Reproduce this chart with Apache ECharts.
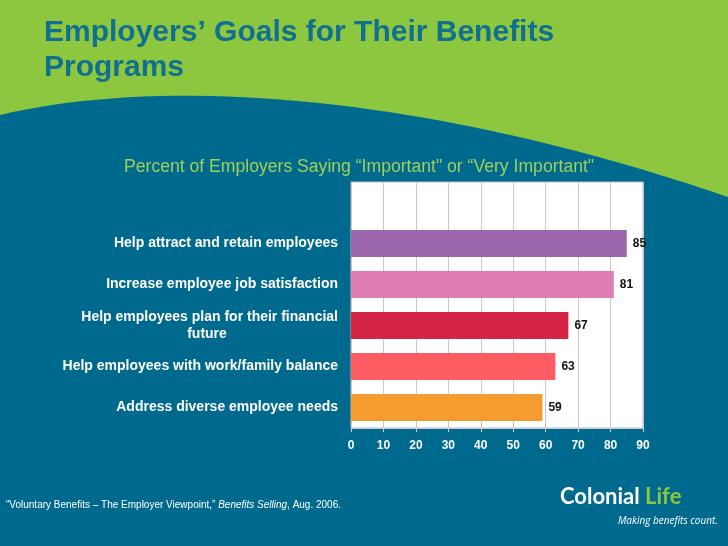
<!DOCTYPE html>
<html>
<head>
<meta charset="utf-8">
<script src="https://cdn.jsdelivr.net/npm/echarts@6/dist/echarts.min.js"></script>
<style>html,body{margin:0;padding:0;}#chart{width:728px;height:546px;}</style>
</head>
<body>
<div id="chart"></div>
<script>
var categories = ['', 'Help attract and retain employees', 'Increase employee job satisfaction',
  'Help employees plan for their financial\nfuture', 'Help employees with work/family balance',
  'Address diverse employee needs'];
var values = [null, 85, 81, 67, 63, 59];
var barColors = ['#fff', '#9b66ac', '#df7cb6', '#d42446', '#fe5c63', '#f59c30'];

// blue wave behind the chart (cubic bezier sampled into a polygon)
function wave() {
    var p = [[0, 115], [170, 75], [430, 95], [728, 197]];
    var pts = [];
    for (var i = 0; i <= 40; i++) {
        var t = i / 40, u = 1 - t;
        var a = u * u * u, b = 3 * u * u * t, c = 3 * u * t * t, d = t * t * t;
        pts.push([a * p[0][0] + b * p[1][0] + c * p[2][0] + d * p[3][0],
                  a * p[0][1] + b * p[1][1] + c * p[2][1] + d * p[3][1]]);
    }
    pts.push([728, 546], [0, 546]);
    return pts;
}

var myChart = echarts.init(document.getElementById('chart'));

var option = {
    backgroundColor: '#8dc63f',
    animation: false,
    graphic: [
        {type: 'polygon', z: -10, shape: {points: wave()}, style: {fill: '#006a8e'}},
        {type: 'text', left: 44, top: 15, style: {text: 'Employers’ Goals for Their Benefits\nPrograms',
         fill: '#11708f', font: 'bold 30px "Liberation Sans", Arial', lineHeight: 35}},
        {type: 'text', left: 124, top: 158, style: {text: 'Percent of Employers Saying “Important" or “Very Important"',
         fill: '#9fd05a', font: '17.6px "Liberation Sans", Arial'}},
        {type: 'text', left: 6, top: 500, style: {rich: {i: {fontStyle: 'italic', fill: '#fff', fontSize: 10}},
         text: '“Voluntary Benefits – The Employer Viewpoint,” {i|Benefits Selling}, Aug. 2006.',
         fill: '#fff', font: '10px "Liberation Sans", Arial'}},
        {type: 'text', left: 560, top: 486, style: {rich: {g: {fill: '#8dc63f', fontSize: 22, fontWeight: 'bold', fontFamily: 'Lato'}},
         text: 'Colonial {g|Life}', fill: '#fff', font: 'bold 22px Lato'}},
        {type: 'text', left: 618, top: 516, style: {text: 'Making benefits count.', fill: '#fff', font: 'italic 10px "Open Sans"'}}
    ],
    grid: {left: 351, right: 85, top: 182, bottom: 118, show: true, backgroundColor: '#fff', borderColor: '#bbb', borderWidth: 1},
    xAxis: {
        type: 'value', min: 0, max: 90, interval: 10,
        axisLine: {show: true, lineStyle: {color: '#ccc'}},
        axisTick: {show: true, length: 4, lineStyle: {color: '#ccc'}},
        splitLine: {lineStyle: {color: '#c8c8c8', width: 1}},
        axisLabel: {color: '#fff', fontWeight: 'bold', fontSize: 12, margin: 12, fontFamily: 'Liberation Sans'}
    },
    yAxis: {
        type: 'category', data: categories, inverse: true,
        axisLine: {show: false}, axisTick: {show: false},
        axisLabel: {color: '#fff', fontWeight: 'bold', fontSize: 14, margin: 13, lineHeight: 17,
            align: 'right', fontFamily: 'Liberation Sans', interval: 0,
            formatter: function (v) {
                if (v.indexOf('\n') >= 0) return v.split('\n')[0] + '\n{c|' + v.split('\n')[1] + '}';
                return v;
            },
            rich: {c: {color: '#fff', fontWeight: 'bold', fontSize: 14, width: 262, align: 'center', fontFamily: 'Liberation Sans'}}
        }
    },
    series: [{
        type: 'bar', barCategoryGap: '34%',
        data: values.map(function (v, i) { return {value: v, itemStyle: {color: barColors[i]}}; }),
        label: {show: true, position: 'right', color: '#111', fontWeight: 'bold', fontSize: 12, distance: 6, fontFamily: 'Liberation Sans'}
    }]
};

myChart.setOption(option);
window.addEventListener('resize', function () { myChart.resize(); });
</script>
</body>
</html>
